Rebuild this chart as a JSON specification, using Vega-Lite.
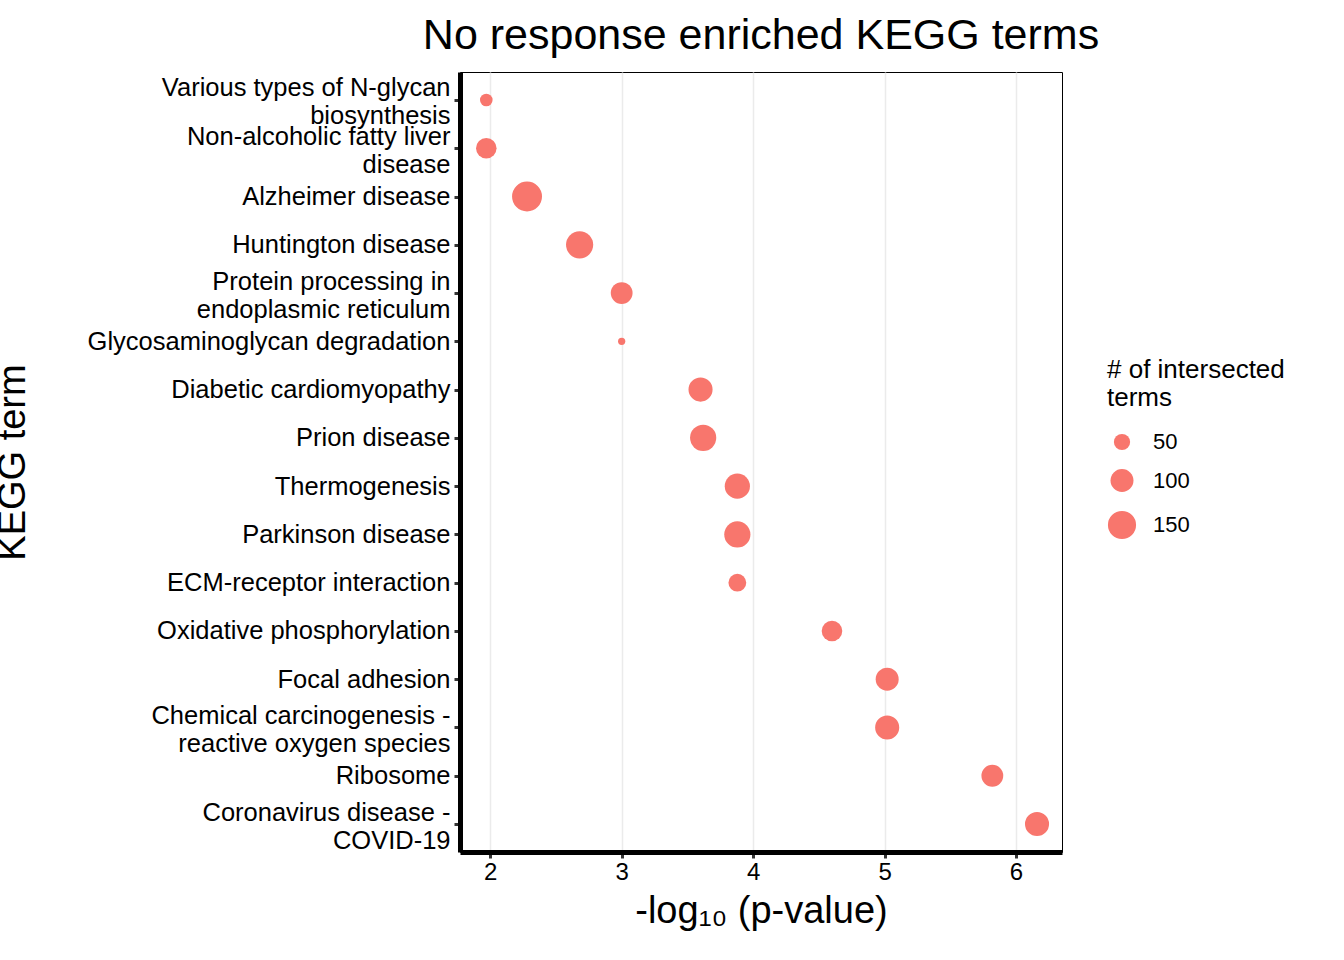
{
"$schema":"https://vega.github.io/schema/vega-lite/v6.json",
"autosize":"none",
"padding":{"left":460,"top":72,"right":282,"bottom":108},
"width":602,"height":780,
"background":"white",
"config":{"font":"Liberation Sans","view":{"stroke":"black","strokeWidth":1}},
"title":{"text":"No response enriched KEGG terms","fontSize":43,"font":"Liberation Sans","fontWeight":"normal","anchor":"middle","offset":14,"color":"black"},
"data":{"values":[
{"term":"Various types of N-glycan|biosynthesis","p":1.97,"n":30},
{"term":"Non-alcoholic fatty liver|disease","p":1.97,"n":80},
{"term":"Alzheimer disease","p":2.28,"n":170},
{"term":"Huntington disease","p":2.68,"n":140},
{"term":"Protein processing in|endoplasmic reticulum","p":3.0,"n":90},
{"term":"Glycosaminoglycan degradation","p":3.0,"n":10},
{"term":"Diabetic cardiomyopathy","p":3.6,"n":110},
{"term":"Prion disease","p":3.62,"n":130},
{"term":"Thermogenesis","p":3.88,"n":120},
{"term":"Parkinson disease","p":3.88,"n":130},
{"term":"ECM-receptor interaction","p":3.88,"n":60},
{"term":"Oxidative phosphorylation","p":4.6,"n":80},
{"term":"Focal adhesion","p":5.02,"n":100},
{"term":"Chemical carcinogenesis -|reactive oxygen species","p":5.02,"n":110},
{"term":"Ribosome","p":5.82,"n":90},
{"term":"Coronavirus disease -|COVID-19","p":6.16,"n":110}
]},
"mark":{"type":"circle","color":"#F8766D","opacity":1},
"encoding":{
"x":{"field":"p","type":"quantitative","scale":{"domain":[1.77,6.35],"nice":false,"zero":false},
"axis":{"values":[2,3,4,5,6],"title":"-log₁₀ (p-value)","titleFontSize":38,"titleFontWeight":"normal","titleColor":"black","labelFontSize":24,"labelColor":"black","domainColor":"black","domainWidth":5,"tickColor":"#333","tickWidth":3,"tickSize":6,"gridColor":"#ebebeb","gridWidth":1.5,"titlePadding":8}},
"y":{"field":"term","type":"nominal","sort":null,"scale":{"type":"point","padding":0.58},
"axis":{"title":"KEGG term","titleFontSize":38,"titleFontWeight":"normal","titleColor":"black","titleX":-428,"labelFontSize":25.5,"labelColor":"black","labelLimit":0,"labelExpr":"split(datum.label,'|')","labelLineHeight":28,"labelOffset":{"condition":{"test":"indexof(datum.label,'|')>=0","value":-12},"value":0},"domainColor":"black","domainWidth":5,"tickColor":"#333","tickWidth":3,"tickSize":6,"gridColor":"#ebebeb","gridWidth":1.5,"labelPadding":4}},
"size":{"field":"n","type":"quantitative","scale":{"domain":[0,180],"range":[0,950]},
"legend":{"title":["# of intersected"," terms"],"titleFontSize":26,"titleFontWeight":"normal","titleColor":"black","labelFontSize":22,"labelColor":"black","values":[50,100,150],"symbolType":"circle","orient":"none","legendX":647,"legendY":285,"padding":0,"rowPadding":12,"titlePadding":20,"labelOffset":16,"symbolOpacity":1,
"encode":{"symbols":{"update":{"fill":{"value":"black"},"stroke":{"value":"black"}}}}}}
}
}
